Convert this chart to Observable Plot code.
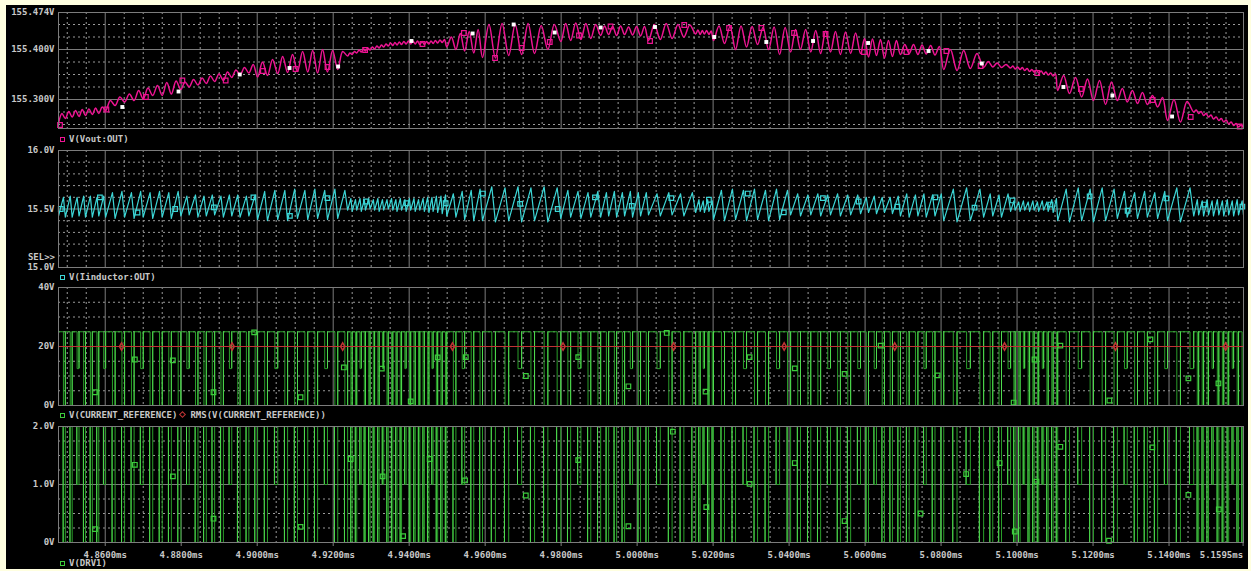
<!DOCTYPE html>
<html><head><meta charset="utf-8">
<script src="https://cdn.jsdelivr.net/npm/d3@7"></script>
<script src="https://cdn.jsdelivr.net/npm/@observablehq/plot@0.6"></script>
<style>
html,body{margin:0;padding:0;background:#ffffe0;width:1251px;height:571px;overflow:hidden;}
#scope{position:absolute;left:6px;top:5px;width:1242px;height:564px;background:#000;}
.lbl{position:absolute;font:bold 9px "DejaVu Sans Mono",monospace;color:#c8c8c8;white-space:pre;line-height:10px;}
.sq{display:inline-block;width:3px;height:3px;border:1px solid;margin:0 4px 0 1px;vertical-align:0px;}
.dm{display:inline-block;width:3px;height:3px;border:1px solid;margin:0 5px 0 3px;vertical-align:1px;transform:rotate(45deg);}
</style></head><body>
<div id="scope"></div>
<script>
// ---------------- data (times in µs after baseMs) ----------------
const baseMs = 4.8;
const xDomainMs = [4.8477, 5.1596];
const xMajor = [4.86,4.88,4.90,4.92,4.94,4.96,4.98,5.00,5.02,5.04,5.06,5.08,5.10,5.12,5.14];
const xEndTick = 5.1595;

// switching-cycle start instants (last entry = end of record)
const cycleStart = [
 47.7,49.5,51.3,53.1,54.8,56.6,58.3,
 60.1,62.6,65.1,67.6,70.0,72.5,75.0,77.4,
 79.9,82.1,84.4,86.6,88.8,91.1,93.3,95.5,97.8,
 100.1,102.7,105.4,108.0,110.6,113.3,115.9,118.5,121.2,
 123.8,125.0,126.2,127.4,128.5,129.7,130.9,132.1,133.3,134.5,135.7,136.8,138.0,139.2,140.4,141.6,142.8,144.0,145.2,146.3,147.5,148.7,
 149.9,152.3,154.6,157.0,
 159.3,162.7,166.2,169.6,173.0,176.5,
 179.9,182.5,185.2,187.8,
 190.4,192.5,194.6,196.7,198.8,200.9,
 203.0,206.1,209.2,212.3,
 215.4,216.6,217.7,218.9,
 220.1,223.0,225.9,228.8,231.7,234.6,237.5,
 240.4,243.0,245.7,248.3,250.9,253.5,256.2,
 258.8,260.9,263.0,265.1,267.2,
 269.3,271.6,273.9,276.1,278.4,
 280.7,284.2,287.7,
 291.2,293.6,295.9,
 298.3,299.5,300.8,302.0,303.3,304.5,305.7,307.0,308.2,309.5,
 310.7,313.8,317.0,320.1,323.3,
 326.4,329.0,331.7,334.3,337.0,
 339.6,343.0,
 346.5,347.8,349.1,350.4,351.7,353.1,354.4,355.7,357.0,358.3,
 359.6];

// V(Vout:OUT) per-cycle trough / peak (V)
const voutLo = [
 155.252,155.262,155.265,155.266,155.268,155.270,155.272,
 155.278,155.288,155.295,155.298,155.301,155.308,155.308,155.311,
 155.320,155.325,155.329,155.332,155.336,155.338,155.344,155.349,155.353,
 155.345,155.348,155.352,155.354,155.356,155.355,155.353,155.355,155.360,
 155.387,155.390,155.393,155.395,155.397,155.399,155.401,155.403,155.405,155.407,155.408,155.409,155.410,155.411,155.411,155.411,155.410,155.410,155.411,155.412,155.413,155.414,
 155.405,155.400,155.397,155.393,
 155.384,155.383,155.388,155.390,155.392,155.400,
 155.416,155.418,155.420,155.422,
 155.428,155.430,155.428,155.430,155.429,155.427,
 155.418,155.420,155.422,155.425,
 155.431,155.430,155.431,155.430,
 155.418,155.412,155.400,155.405,155.410,155.400,155.390,
 155.395,155.400,155.395,155.392,155.395,155.390,155.392,
 155.392,155.385,155.388,155.383,155.386,
 155.390,155.392,155.390,155.391,155.389,
 155.360,155.358,155.362,
 155.364,155.365,155.364,
 155.363,155.361,155.360,155.358,155.356,155.355,155.353,155.351,155.349,155.347,
 155.318,155.312,155.305,155.298,155.290,
 155.298,155.295,155.292,155.290,155.285,
 155.258,155.255,
 155.275,155.272,155.268,155.265,155.261,155.258,155.255,155.251,155.248,155.245];
const voutHi = [
 155.272,155.276,155.278,155.280,155.281,155.283,155.285,
 155.298,155.305,155.311,155.318,155.323,155.328,155.334,155.337,
 155.335,155.340,155.343,155.347,155.351,155.355,155.359,155.364,155.370,
 155.375,155.380,155.386,155.390,155.396,155.398,155.400,155.398,155.396,
 155.393,155.396,155.399,155.401,155.403,155.405,155.407,155.409,155.411,155.413,155.414,155.415,155.416,155.417,155.417,155.417,155.416,155.416,155.417,155.418,155.419,155.420,
 155.425,155.432,155.436,155.440,
 155.450,155.452,155.450,155.452,155.448,155.450,
 155.452,155.453,155.452,155.450,
 155.447,155.446,155.447,155.445,155.446,155.446,
 155.450,155.452,155.450,155.449,
 155.439,155.438,155.438,155.437,
 155.447,155.446,155.447,155.446,155.444,155.445,155.444,
 155.440,155.440,155.438,155.437,155.436,155.435,155.433,
 155.422,155.421,155.420,155.418,155.418,
 155.410,155.410,155.409,155.408,155.406,
 155.400,155.398,155.392,
 155.376,155.373,155.370,
 155.367,155.365,155.364,155.362,155.360,155.359,155.357,155.355,155.353,155.351,
 155.348,155.344,155.341,155.338,155.335,
 155.322,155.318,155.314,155.308,155.304,
 155.300,155.296,
 155.279,155.276,155.272,155.269,155.265,155.262,155.259,155.255,155.252,155.249];

// V(Iinductor:OUT) per-cycle trough / peak (V)
const ilLo = [
 15.44,15.43,15.43,15.44,15.43,15.43,15.44,
 15.43,15.42,15.43,15.42,15.43,15.42,15.43,15.42,
 15.44,15.45,15.43,15.44,15.45,15.43,15.44,15.43,15.44,
 15.41,15.40,15.41,15.40,15.42,15.41,15.42,15.41,15.42,
 15.49,15.48,15.49,15.48,15.49,15.50,15.49,15.48,15.49,15.50,15.49,15.48,15.49,15.48,15.49,15.48,15.49,15.48,15.47,15.48,15.47,15.46,
 15.44,15.43,15.41,15.40,
 15.40,15.39,15.40,15.39,15.40,15.39,
 15.42,15.43,15.42,15.43,
 15.43,15.44,15.43,15.44,15.43,15.44,
 15.45,15.44,15.45,15.44,
 15.47,15.48,15.47,15.48,
 15.41,15.40,15.41,15.40,15.41,15.40,15.41,
 15.45,15.44,15.45,15.44,15.45,15.44,15.45,
 15.46,15.47,15.46,15.47,15.46,
 15.44,15.43,15.44,15.43,15.44,
 15.40,15.39,15.40,
 15.43,15.44,15.43,
 15.48,15.49,15.48,15.49,15.48,15.49,15.48,15.49,15.48,15.47,
 15.40,15.39,15.40,15.39,15.40,
 15.42,15.43,15.42,15.43,15.42,
 15.40,15.39,
 15.44,15.45,15.44,15.45,15.44,15.45,15.44,15.45,15.44,15.45];
const ilHi = [
 15.60,15.61,15.60,15.61,15.61,15.60,15.61,
 15.64,15.65,15.64,15.65,15.64,15.65,15.64,15.65,
 15.61,15.62,15.61,15.62,15.61,15.62,15.62,15.61,15.62,
 15.65,15.66,15.66,15.67,15.66,15.67,15.66,15.67,15.66,
 15.59,15.58,15.59,15.58,15.59,15.58,15.59,15.58,15.58,15.59,15.58,15.59,15.58,15.59,15.59,15.58,15.59,15.60,15.60,15.61,15.61,15.62,
 15.63,15.65,15.66,15.67,
 15.69,15.68,15.69,15.68,15.69,15.68,
 15.66,15.65,15.64,15.65,
 15.64,15.65,15.64,15.65,15.64,15.64,
 15.63,15.64,15.63,15.64,
 15.58,15.57,15.58,15.57,
 15.66,15.67,15.66,15.67,15.66,15.67,15.66,
 15.63,15.62,15.63,15.62,15.63,15.62,15.62,
 15.60,15.61,15.60,15.60,15.61,
 15.63,15.62,15.63,15.62,15.63,
 15.67,15.68,15.67,
 15.63,15.62,15.63,
 15.57,15.56,15.57,15.56,15.57,15.56,15.57,15.56,15.58,15.59,
 15.67,15.68,15.67,15.68,15.67,
 15.65,15.64,15.65,15.64,15.65,
 15.68,15.68,
 15.58,15.57,15.58,15.57,15.58,15.57,15.58,15.57,15.58,15.57];

// pulse low level per cycle: 0 = bottom level, 1 = middle level
const pulseLowIdx = [
 0,0,1,0,0,0,1,
 0,0,0,1,0,0,0,0,
 1,0,0,0,0,1,0,0,0,
 0,1,0,0,0,0,1,0,0,
 0,0,1,0,0,0,0,1,0,0,0,0,1,0,0,0,0,0,1,0,0,0,
 0,1,0,0,
 0,0,1,0,0,0,
 0,1,0,0,
 0,0,0,1,0,0,
 1,0,0,0,
 0,1,0,0,
 0,0,1,0,0,1,0,
 0,0,0,1,0,0,1,
 0,1,0,0,0,
 0,0,1,0,0,
 0,1,0,
 0,0,1,
 0,0,1,0,0,0,1,0,0,0,
 0,1,0,0,0,
 1,0,0,0,1,
 0,1,
 0,0,0,1,0,0,0,1,0,0];
const crefLevels = [0, 12.5, 25];
const drvLevels = [0, 1.0, 2.0];
const dutyOn = 0.72;
const dutyDrv = 0.68;
const voutPeakPos = 0.5;
const rmsValue = 20.0;

// trace markers
const voutMarkT = [48.1,60.3,70.7,80.3,91.7,101.5,110.1,118.5,128.4,143.5,154.4,162.6,169.6,177.0,184.7,193.0,203.4,212.4,224.2,232.7,241.3,249.6,259.7,270.9,281.4,290.4,305.3,316.8,335.7,345.7,358.6];
const voutMarkV = [155.249,155.280,155.305,155.338,155.338,155.357,155.361,155.365,155.399,155.411,155.433,155.383,155.403,155.415,155.428,155.446,155.417,155.449,155.443,155.443,155.433,155.431,155.395,155.395,155.397,155.367,155.353,155.321,155.299,155.265,155.246];
const voutWhiteT = [64.5,79.3,95.4,108.5,121.3,140.6,156.7,167.5,178.3,190.4,204.7,220.3,234.0,246.3,260.8,276.7,290.7,312.2,325.1,340.8];
const voutWhiteV = [155.285,155.316,155.350,155.363,155.366,155.417,155.432,155.450,155.434,155.444,155.445,155.425,155.415,155.417,155.413,155.397,155.372,155.325,155.308,155.266];
const ilMarkT = [48.3,58.6,68.5,78.4,88.6,99.0,108.6,118.5,128.6,139.3,149.6,159.4,169.2,179.1,188.9,198.6,209.0,218.9,229.1,238.6,248.9,258.3,268.5,278.5,288.8,298.8,308.8,319.1,329.1,339.3,349.3,359.3];
const ilMarkV = [15.500,15.599,15.470,15.500,15.514,15.599,15.441,15.593,15.564,15.549,15.549,15.632,15.544,15.500,15.599,15.527,15.593,15.579,15.632,15.471,15.593,15.564,15.520,15.600,15.511,15.573,15.538,15.608,15.485,15.590,15.538,15.520];
const crefMarkT = [57.3,67.8,77.8,88.5,99.2,111.4,122.8,132.8,140.4,147.5,154.9,170.7,184.5,197.7,207.8,218.0,229.6,241.5,254.6,264.1,279.1,299.1,304.6,311.4,324.3,335.1,345.1,353.0];
const crefMarkV = [4.5,15.6,15.3,4.5,24.8,2.8,12.9,12.5,1.4,16.3,16.4,10.0,16.4,6.5,24.6,4.7,16.4,12.6,10.7,20.3,10.2,1.0,15.6,20.3,1.7,22.4,9.2,7.5];
const rmsMarkT = [64.3,93.4,122.5,151.4,180.5,209.6,238.7,267.8,296.7,325.9,354.9];
const drvMarkT = [57.3,67.8,77.8,88.5,111.4,124.6,133.0,138.4,145.4,154.7,170.7,184.5,197.7,209.4,218.2,229.6,241.5,254.6,274.6,286.6,295.4,299.4,305.1,311.4,324.2,335.6,345.1,353.1];
const drvMarkV = [0.23,1.34,1.14,0.41,0.27,1.44,1.14,0.11,1.44,1.07,0.81,1.42,0.28,1.91,0.61,1.01,1.37,0.37,0.50,1.18,1.37,0.19,1.05,1.65,0.03,1.64,0.82,0.57];

// ---------------- build ----------------
const ms = t => baseMs + t / 1000;
const nC = cycleStart.length - 1;

function ripple(lo, hi, duty) {
  const pts = [];
  for (let i = 0; i < nC; i++) {
    const t0 = cycleStart[i], t1 = cycleStart[i + 1];
    pts.push({t: ms(t0), v: lo[i]});
    pts.push({t: ms(t0 + duty * (t1 - t0)), v: hi[i]});
  }
  pts.push({t: ms(cycleStart[nC]), v: lo[nC - 1]});
  return pts;
}
function pulses(levels, duty) {
  const pts = [], rises = [], falls = [];
  let prevLow = levels[pulseLowIdx[0]];
  for (let i = 0; i < nC; i++) {
    const t0 = cycleStart[i], t1 = cycleStart[i + 1];
    const toff = t0 + duty * (t1 - t0);
    const low = levels[pulseLowIdx[i]];
    pts.push({t: ms(t0), v: prevLow}, {t: ms(t0), v: levels[2]}, {t: ms(toff), v: levels[2]}, {t: ms(toff), v: low});
    rises.push({t: ms(t0), lo: prevLow, hi: levels[2]});
    falls.push({t: ms(toff), lo: low, hi: levels[2]});
    prevLow = low;
  }
  pts.push({t: ms(cycleStart[nC]), v: prevLow});
  return {pts, rises, falls};
}
const zip = (T, V) => T.map((t, i) => ({t: ms(t), v: V[i]}));

const xMinor = d3.range(970, 1032).filter(k => k % 4 !== 0).map(k => k * 0.005);
const gridDash = "#9a9a9a", gridSolid = "#7c7c7c";
const textStyle = {background: "transparent", color: "#c8c8c8", fontFamily: "'DejaVu Sans Mono', monospace", fontSize: "9px", fontWeight: "bold", overflow: "visible"};

function makePanel(o) {
  const svg = Plot.plot({
    width: 1251, height: o.height,
    marginLeft: 58, marginRight: 8, marginTop: o.mt, marginBottom: o.mb,
    style: textStyle,
    x: o.xAxis ? {domain: xDomainMs} : {domain: xDomainMs, axis: null},
    y: {domain: o.yDomain},
    marks: [
      Plot.ruleX(xMinor, {stroke: gridDash, strokeDasharray: "2,3"}),
      Plot.ruleY(o.yMinor, {stroke: gridDash, strokeDasharray: "2,3"}),
      Plot.ruleX(xMajor, {stroke: gridSolid}),
      Plot.ruleY(o.yMajor, {stroke: gridSolid}),
      ...o.marks,
      Plot.frame({stroke: gridSolid}),
      Plot.axisY(o.yLabels, {tickSize: 0, tickPadding: 4, tickFormat: o.fmt, label: null}),
      ...(o.extra || [])
    ]
  });
  svg.style.position = "absolute";
  svg.style.left = "0px";
  svg.style.top = o.top + "px";
  document.body.appendChild(svg);
}

// Panel 1: V(Vout:OUT)
makePanel({
  top: 0, height: 130, mt: 12, mb: 2,
  yDomain: [155.242, 155.474],
  yLabels: [155.474, 155.4, 155.3], fmt: d => d.toFixed(3) + "V",
  yMajor: [155.3, 155.4], yMinor: [155.25, 155.275, 155.325, 155.35, 155.375, 155.425, 155.45],
  marks: [
    Plot.line(ripple(voutLo, voutHi, voutPeakPos), {x: "t", y: "v", stroke: "#ee1493", strokeWidth: 1.5, curve: "catmull-rom", clip: true}),
    Plot.dot(zip(voutMarkT, voutMarkV), {x: "t", y: "v", symbol: "square", r: 2.6, stroke: "#ee1493", strokeWidth: 1.2, fill: "none"}),
    Plot.dot(zip(voutWhiteT, voutWhiteV), {x: "t", y: "v", symbol: "square", r: 2.2, fill: "#ffffff", stroke: "none"})
  ]
});

// Panel 2: V(Iinductor:OUT)
makePanel({
  top: 140, height: 130, mt: 10, mb: 3,
  yDomain: [15.0, 16.0],
  yLabels: [16.0, 15.5, 15.0], fmt: d => d.toFixed(1) + "V",
  yMajor: [15.5], yMinor: [15.1, 15.2, 15.3, 15.4, 15.6, 15.7, 15.8, 15.9],
  marks: [
    Plot.line(ripple(ilLo, ilHi, dutyOn), {x: "t", y: "v", stroke: "#3cd6d6", strokeWidth: 1.2, clip: true}),
    Plot.dot(zip(ilMarkT, ilMarkV), {x: "t", y: "v", symbol: "square", r: 2.6, stroke: "#3cd6d6", strokeWidth: 1.2, fill: "none"})
  ]
});

// Panel 3: V(CURRENT_REFERENCE) + RMS
const cref = pulses(crefLevels, dutyOn);
makePanel({
  top: 277, height: 131, mt: 10, mb: 3,
  yDomain: [0, 40],
  yLabels: [40, 20, 0], fmt: d => d + "V",
  yMajor: [20], yMinor: [5, 10, 15, 25, 30, 35],
  marks: [
    Plot.line(cref.pts, {x: "t", y: "v", stroke: "#2a9f2a", strokeWidth: 1, clip: true}),
    Plot.ruleX(cref.rises, {x: "t", y1: "lo", y2: "hi", stroke: "#4fdc4f", strokeWidth: 1}),
    Plot.ruleY([rmsValue], {stroke: "#c03434", strokeWidth: 1}),
    Plot.dot(rmsMarkT.map(ms), {x: d => d, y: () => rmsValue, symbol: "diamond", r: 2.2, stroke: "#c03434", fill: "none"}),
    Plot.dot(zip(crefMarkT, crefMarkV), {x: "t", y: "v", symbol: "square", r: 2.6, stroke: "#3ccc3c", strokeWidth: 1.2, fill: "none"})
  ]
});

// Panel 4: V(DRV1)
const drv = pulses(drvLevels, dutyDrv);
makePanel({
  top: 416, height: 150, mt: 10, mb: 24, xAxis: true,
  yDomain: [0, 2],
  yLabels: [2, 1, 0], fmt: d => d === 0 ? "0V" : d.toFixed(1) + "V",
  yMajor: [1], yMinor: [0.25, 0.5, 0.75, 1.25, 1.5, 1.75],
  marks: [
    Plot.line(drv.pts, {x: "t", y: "v", stroke: "#2a9f2a", strokeWidth: 1, clip: true}),
    Plot.ruleX(drv.falls, {x: "t", y1: "lo", y2: "hi", stroke: "#4fdc4f", strokeWidth: 1}),
    Plot.dot(zip(drvMarkT, drvMarkV), {x: "t", y: "v", symbol: "square", r: 2.6, stroke: "#3ccc3c", strokeWidth: 1.2, fill: "none"})
  ],
  extra: [
    Plot.axisX(xMajor, {tickSize: 4, tickPadding: 5, tickFormat: d => d.toFixed(4) + "ms", stroke: gridSolid, label: null}),
    Plot.axisX([xEndTick], {tickSize: 4, tickPadding: 5, tickFormat: d => d.toFixed(4) + "ms", textAnchor: "end", stroke: gridSolid, label: null})
  ]
});
</script>
<div class="lbl" style="left:59px;top:134px;"><span class="sq" style="border-color:#ee1493"></span>V(Vout:OUT)</div>
<div class="lbl" style="left:0;top:252px;width:55px;text-align:right;">SEL&gt;&gt;</div>
<div class="lbl" style="left:59px;top:272px;"><span class="sq" style="border-color:#3cd6d6"></span>V(Iinductor:OUT)</div>
<div class="lbl" style="left:59px;top:410px;"><span class="sq" style="border-color:#3ccc3c"></span>V(CURRENT_REFERENCE)<span class="dm" style="border-color:#c03434"></span>RMS(V(CURRENT_REFERENCE))</div>
<div class="lbl" style="left:59px;top:558px;"><span class="sq" style="border-color:#3ccc3c"></span>V(DRV1)</div>
</body></html>
